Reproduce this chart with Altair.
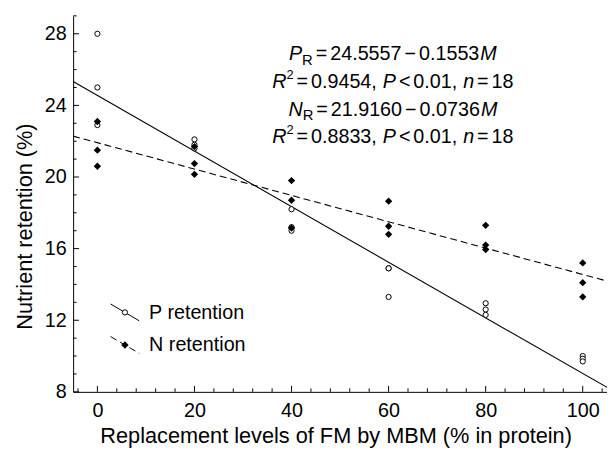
import altair as alt
import pandas as pd

# ---------------- data ----------------
levels_p = [0, 0, 0, 20, 20, 20, 40, 40, 40, 60, 60, 60, 80, 80, 80, 100, 100, 100]
p_retention = [28.0, 25.0, 22.9, 22.1, 21.8, 21.6, 18.2, 17.2, 17.0,
               14.9, 14.9, 13.3, 12.95, 12.6, 12.3, 10.0, 9.85, 9.7]
levels_n = [0, 0, 0, 20, 20, 20, 40, 40, 40, 60, 60, 60, 80, 80, 80, 100, 100, 100]
n_retention = [23.1, 21.5, 20.6, 21.7, 20.75, 20.15, 19.8, 18.7, 17.15,
               18.65, 17.25, 16.8, 17.3, 16.2, 15.95, 15.2, 14.1, 13.3]

series_names = ["P retention", "N retention"]
intercepts = [24.5557, 21.9160]
slopes = [-0.1553, -0.0736]
fit_range = [-5, 105]

x_major = [0, 20, 40, 60, 80, 100]
x_minor = [-4, 4, 8, 12, 16, 24, 28, 32, 36, 44, 48, 52, 56, 64, 68, 72, 76, 84, 88, 92, 96, 104]
y_major = [8, 12, 16, 20, 24, 28]
y_minor = [9, 10, 11, 13, 14, 15, 17, 18, 19, 21, 22, 23, 25, 26, 27, 29]

x_title = "Replacement levels of FM by MBM (% in protein)"
y_title = "Nutrient retention (%)"

FONT = "Liberation Sans"
W, H = 541, 381          # plot area
PL, PT = 66, 5           # padding -> plot origin at page (74, 13)
OX, OY = 8 + PL, 8 + PT  # page coords of plot origin

# ---------------- tables ----------------
df_p = pd.DataFrame({"M": levels_p, "value": p_retention})
df_n = pd.DataFrame({"M": levels_n, "value": n_retention})
fit_rows = []
for name, a, b in zip(series_names, intercepts, slopes):
    for m in fit_range:
        fit_rows.append({"series": name, "M": m, "value": a + b * m})
df_fit = pd.DataFrame(fit_rows)

xs = alt.Scale(domain=[-5, 105], nice=False, zero=False)
ys = alt.Scale(domain=[8, 29], nice=False, zero=False)

x_axis = alt.Axis(values=x_major, ticks=False, tickSize=0, grid=False,
                  domainColor="black", domainWidth=1, labelFontSize=20,
                  labelPadding=9, labelColor="black", labelFont=FONT,
                  title=x_title, titleFontSize=22, titleFont=FONT,
                  titleFontWeight="normal", titleColor="black",
                  titleBaseline="middle", titleY=44, titleX=266)
y_axis = alt.Axis(values=y_major, ticks=False, tickSize=0, grid=False,
                  domainColor="black", domainWidth=1, labelFontSize=20,
                  labelPadding=7, labelColor="black", labelFont=FONT,
                  title=y_title, titleFontSize=22, titleFont=FONT,
                  titleFontWeight="normal", titleColor="black",
                  titleBaseline="middle", titleX=-49, titleY=213)

base_fit = alt.Chart(df_fit)
line_p = base_fit.transform_filter(alt.datum.series == "P retention").mark_line(
    color="black", strokeWidth=1.1).encode(
    x=alt.X("M:Q", scale=xs, axis=x_axis),
    y=alt.Y("value:Q", scale=ys, axis=y_axis))
line_n = base_fit.transform_filter(alt.datum.series == "N retention").mark_line(
    color="black", strokeWidth=1.1, strokeDash=[7, 4]).encode(
    x=alt.X("M:Q", scale=xs), y=alt.Y("value:Q", scale=ys))

pts_p = alt.Chart(df_p).mark_point(shape="circle", filled=True, fill="white",
                                   stroke="black", strokeWidth=1, size=28, opacity=1).encode(
    x=alt.X("M:Q", scale=xs), y=alt.Y("value:Q", scale=ys))
pts_n = alt.Chart(df_n).mark_point(shape="diamond", filled=True, color="black",
                                   size=55, opacity=1).encode(
    x=alt.X("M:Q", scale=xs), y=alt.Y("value:Q", scale=ys))

# inward ticks
tick_layers = []
for vals, ln in [(x_major, 6), (x_minor, 3.5)]:
    tick_layers.append(alt.Chart(pd.DataFrame({"t": vals})).mark_rule(
        color="black", strokeWidth=1).encode(
        x=alt.X("t:Q", scale=xs), y=alt.value(H), y2=alt.value(H - ln)))
for vals, ln in [(y_major, 6), (y_minor, 3.5)]:
    tick_layers.append(alt.Chart(pd.DataFrame({"t": vals})).mark_rule(
        color="black", strokeWidth=1).encode(
        y=alt.Y("t:Q", scale=ys), x=alt.value(0), x2=alt.value(ln)))

# ---------------- equations (rich text built from pieces) ----------------
EM = {c: 0.556 for c in "0123456789"}
EM.update({".": 0.278, ",": 0.278, "=": 0.584, "<": 0.584, "\u2212": 0.584,
           "R": 0.722, "P": 0.667, "N": 0.722, "M": 0.833, "n": 0.556})


def wid(s, size):
    return sum(EM[c] for c in s) * size


def eq1(var, a, b):
    return [(var, 20, "italic", 0), ("R", 15, "normal", 5), 3, ("=", 20, "normal", 0), 3,
            (a, 20, "normal", 0), 3, ("\u2212", 20, "normal", 0), 3, (b, 20, "normal", 0), 1,
            ("M", 20, "italic", 0)]


def eq2(r2):
    return [("R", 20, "italic", 0), ("2", 13, "normal", -9), 3, ("=", 20, "normal", 0), 3,
            (r2 + ",", 20, "normal", 0), 6, ("P", 20, "italic", 0), 3, ("<", 20, "normal", 0), 3,
            ("0.01,", 20, "normal", 0), 6, ("n", 20, "italic", 0), 3, ("=", 20, "normal", 0), 3,
            ("18", 20, "normal", 0)]


eq_lines = [(eq1("P", "24.5557", "0.1553"), 58), (eq2("0.9454"), 86),
            (eq1("N", "21.9160", "0.0736"), 114), (eq2("0.8833"), 142)]
center_x = 398
rows = []
for pieces, base in eq_lines:
    total = sum(p if isinstance(p, (int, float)) else wid(p[0], p[1]) for p in pieces)
    x = center_x - total / 2
    for p in pieces:
        if isinstance(p, (int, float)):
            x += p
            continue
        txt, sz, style, dy = p
        rows.append({"txt": txt, "px": x - OX, "py": base + dy - OY, "fs": sz, "style": style})
        x += wid(txt, sz)
df_eq = pd.DataFrame(rows)
eq_layers = []
for style in ["normal", "italic"]:
    eq_layers.append(alt.Chart(df_eq).transform_filter(alt.datum.style == style).mark_text(
        align="left", baseline="alphabetic", font=FONT, fontStyle=style, color="black").encode(
        x=alt.X("px:Q", scale=None, axis=None), y=alt.Y("py:Q", scale=None, axis=None),
        size=alt.Size("fs:Q", scale=None, legend=None), text="txt:N"))

# ---------------- legend ----------------
one = pd.DataFrame({"k": [0]})
leg_p_line = alt.Chart(one).mark_rule(color="black", strokeWidth=1).encode(
    x=alt.value(112 - OX), x2=alt.value(141 - OX), y=alt.value(305 - OY), y2=alt.value(322 - OY))
leg_p_pt = alt.Chart(one).mark_point(shape="circle", filled=True, fill="white", stroke="black",
                                     strokeWidth=1, size=28, opacity=1).encode(
    x=alt.value(126.5 - OX), y=alt.value(313.5 - OY))
leg_n_line = alt.Chart(one).mark_rule(color="black", strokeWidth=1, strokeDash=[7, 4]).encode(
    x=alt.value(112 - OX), x2=alt.value(141 - OX), y=alt.value(338 - OY), y2=alt.value(355 - OY))
leg_n_pt = alt.Chart(one).mark_point(shape="diamond", filled=True, color="black",
                                     size=55, opacity=1).encode(
    x=alt.value(126.5 - OX), y=alt.value(346.5 - OY))
leg_text_p = alt.Chart(one).mark_text(
    align="left", baseline="middle", font=FONT, fontSize=20, color="black",
    text=series_names[0]).encode(x=alt.value(151 - OX), y=alt.value(314 - OY))
leg_text_n = alt.Chart(one).mark_text(
    align="left", baseline="middle", font=FONT, fontSize=20, color="black",
    text=series_names[1]).encode(x=alt.value(151 - OX), y=alt.value(347 - OY))

chart = alt.layer(
    line_p, line_n, *tick_layers, pts_p, pts_n, *eq_layers,
    leg_p_line, leg_n_line, leg_p_pt, leg_n_pt, leg_text_p, leg_text_n
).properties(
    width=W, height=H,
    autosize=alt.AutoSizeParams(type="none"),
    padding={"left": PL, "top": PT, "right": 0, "bottom": 60},
    background="white",
).configure_view(strokeOpacity=0)

chart.save("out.html", embed_options={"renderer": "svg", "actions": False})
